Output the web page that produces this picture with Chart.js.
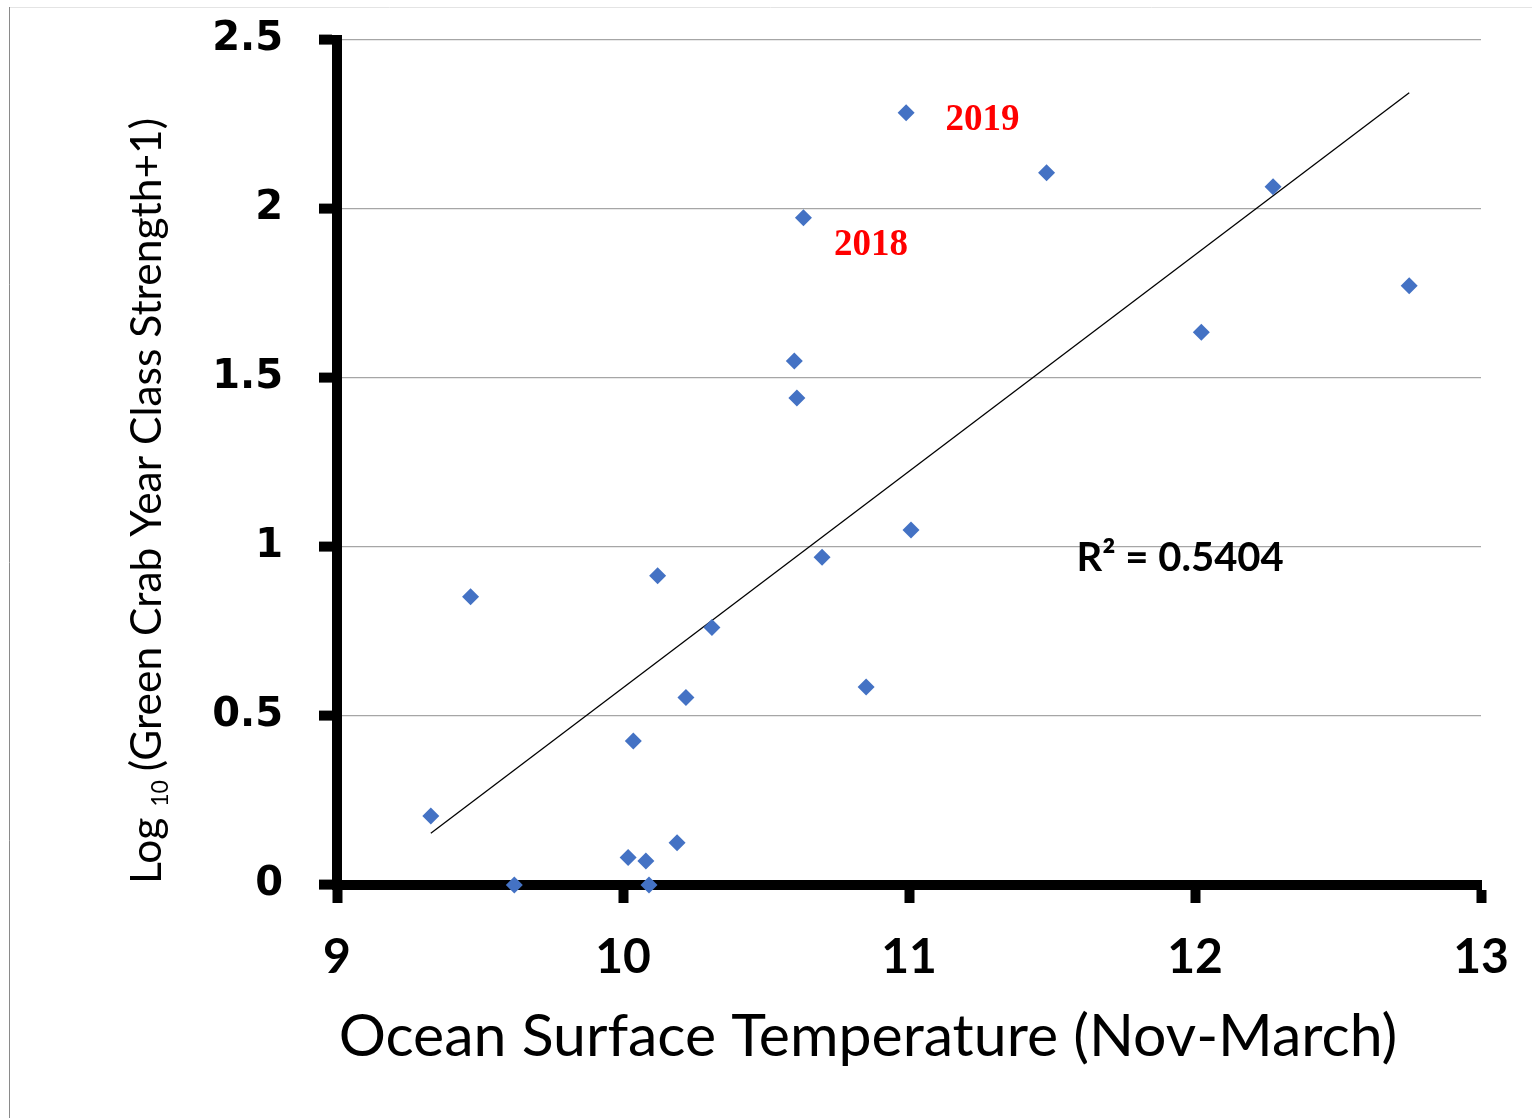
<!DOCTYPE html>
<html>
<head>
<meta charset="utf-8">
<script src="https://cdn.jsdelivr.net/npm/chart.js@4"></script>
<style>
  html, body { margin: 0; padding: 0; background: #fff; }
  #wrap { position: relative; width: 1532px; height: 1118px; }
  canvas { display: block; }
</style>
</head>
<body>
<div id="wrap"><canvas id="c" width="1532" height="1118"></canvas></div>
<script>
// Ocean surface temperature (Nov-March), °C
const temps = [9.328, 9.467, 9.620, 10.018, 10.036, 10.080, 10.091, 10.121, 10.189, 10.220, 10.311,
               10.599, 10.608, 10.631, 10.696, 10.850, 10.990, 11.007, 11.481, 12.022, 12.273, 12.749];
// Log10(Green Crab Year Class Strength + 1)
const logStrength = [0.204, 0.853, 0.000, 0.081, 0.426, 0.071, 0.000, 0.915, 0.125, 0.555, 0.762,
                     1.550, 1.441, 1.974, 0.970, 0.586, 2.285, 1.050, 2.107, 1.635, 2.066, 1.773];
// Linear trend line end points
const trendX = [9.328, 12.749];
const trendY = [0.153, 2.344];
// Axis ticks
const xTicks = [9, 10, 11, 12, 13];
const yTicks = [0, 0.5, 1, 1.5, 2, 2.5];
// Annotations
const annoText = ['2019', '2018', 'R\u00B2 = 0.5404'];
const annoX = [11.257, 10.867, 11.948];
const annoY = [2.263, 1.893, 0.967];

const xTitle = 'Ocean Surface Temperature (Nov-March)';
const yTitleParts = ['Log', '10', '(Green Crab Year Class Strength+1)'];

const scatterData = temps.map((t, i) => ({ x: t, y: logStrength[i] }));
const trendData = trendX.map((t, i) => ({ x: t, y: trendY[i] }));

function zeroPad(scale) {
  scale.paddingTop = 0; scale.paddingBottom = 0;
  scale.paddingLeft = 0; scale.paddingRight = 0;
}

const decorPlugin = {
  id: 'decor',
  beforeDraw(chart) {
    const ctx = chart.ctx;
    ctx.save();
    ctx.fillStyle = '#ffffff';
    ctx.fillRect(0, 0, chart.width, chart.height);
    ctx.strokeStyle = '#e4e4e4';
    ctx.lineWidth = 1;
    ctx.beginPath(); ctx.moveTo(9, 7.5); ctx.lineTo(chart.width, 7.5); ctx.stroke();
    ctx.strokeStyle = '#8a8a8a';
    ctx.beginPath(); ctx.moveTo(9.5, 7); ctx.lineTo(9.5, chart.height); ctx.stroke();
    ctx.restore();
  },
  afterDraw(chart) {
    const ctx = chart.ctx;
    const xs = chart.scales.x, ys = chart.scales.y;
    ctx.save();
    // annotations
    ctx.textAlign = 'center';
    ctx.textBaseline = 'middle';
    ctx.fillStyle = '#ff0000';
    ctx.font = 'bold 37px "Liberation Serif", "Times New Roman", serif';
    for (let i = 0; i < 2; i++) {
      ctx.fillText(annoText[i], xs.getPixelForValue(annoX[i]), ys.getPixelForValue(annoY[i]));
    }
    ctx.fillStyle = '#000000';
    ctx.font = 'bold 40px Lato, "Open Sans", sans-serif';
    ctx.fillText(annoText[2], xs.getPixelForValue(annoX[2]), ys.getPixelForValue(annoY[2]));

    // x title
    ctx.font = '59px Lato, "Open Sans", sans-serif';
    ctx.textAlign = 'center';
    ctx.textBaseline = 'alphabetic';
    ctx.fillText(xTitle, 868, 1056);

    // y title (rotated) with subscript
    const mainFont = '42.5px Lato, "Open Sans", sans-serif';
    const subFont = '23px Lato, "Open Sans", sans-serif';
    ctx.font = mainFont;
    const w0 = ctx.measureText(yTitleParts[0]).width;
    const wsp = ctx.measureText(' ').width;
    const w2 = ctx.measureText(yTitleParts[2]).width;
    ctx.font = subFont;
    const w1 = ctx.measureText(yTitleParts[1]).width;
    const gap2 = 9;
    const total = w0 + wsp + w1 + gap2 + w2;
    ctx.translate(161, 501);
    ctx.rotate(-Math.PI / 2);
    ctx.textAlign = 'left';
    let px = -total / 2;
    ctx.font = mainFont;
    ctx.fillText(yTitleParts[0], px, 0);
    px += w0 + wsp;
    ctx.font = subFont;
    ctx.fillText(yTitleParts[1], px, 7);
    px += w1 + gap2;
    ctx.font = mainFont;
    ctx.fillText(yTitleParts[2], px, 0);
    ctx.restore();
  }
};

new Chart(document.getElementById('c'), {
  type: 'scatter',
  data: {
    datasets: [
      {
        label: 'Year class strength',
        data: scatterData,
        pointStyle: 'rectRot',
        pointRadius: 8.5,
        pointHoverRadius: 8.5,
        pointBackgroundColor: '#4472C4',
        pointBorderWidth: 0,
        borderWidth: 0,
        clip: false,
        order: 1
      },
      {
        label: 'Trend',
        data: trendData,
        showLine: true,
        borderColor: '#000000',
        borderWidth: 1.3,
        pointRadius: 0,
        pointHoverRadius: 0,
        fill: false,
        order: 2
      }
    ]
  },
  options: {
    responsive: false,
    animation: false,
    devicePixelRatio: 1,
    layout: { padding: { left: 0, top: 40, right: 51, bottom: 0 } },
    plugins: { legend: { display: false }, tooltip: { enabled: false } },
    scales: {
      x: {
        type: 'linear',
        min: xTicks[0],
        max: xTicks[xTicks.length - 1],
        afterBuildTicks(scale) { scale.ticks = xTicks.map(v => ({ value: v })); },
        afterFit(scale) { scale.height = 233; zeroPad(scale); },
        border: { display: true, color: '#000000', width: 10 },
        grid: {
          drawOnChartArea: false,
          drawTicks: true,
          tickLength: 18,
          tickWidth: 10,
          tickColor: '#000000',
          color: '#000000'
        },
        ticks: {
          color: '#000000',
          padding: 26,
          font: { family: 'Lato, "Open Sans", sans-serif', size: 48, weight: 'bold' },
          callback: v => String(v)
        },
        title: { display: false }
      },
      y: {
        type: 'linear',
        min: yTicks[0],
        max: yTicks[yTicks.length - 1],
        afterBuildTicks(scale) { scale.ticks = yTicks.map(v => ({ value: v })); },
        afterFit(scale) { scale.width = 337; zeroPad(scale); },
        border: { display: true, color: '#000000', width: 10 },
        grid: {
          drawOnChartArea: true,
          drawTicks: true,
          tickLength: 18,
          tickWidth: 10,
          tickColor: '#000000',
          color: '#a6a6a6',
          lineWidth: 1.2
        },
        ticks: {
          color: '#000000',
          padding: 36,
          font: { family: '"DejaVu Sans", Verdana, sans-serif', size: 40, weight: 'bold' },
          callback: v => String(v)
        },
        title: { display: false }
      }
    }
  },
  plugins: [decorPlugin]
});
</script>
</body>
</html>
